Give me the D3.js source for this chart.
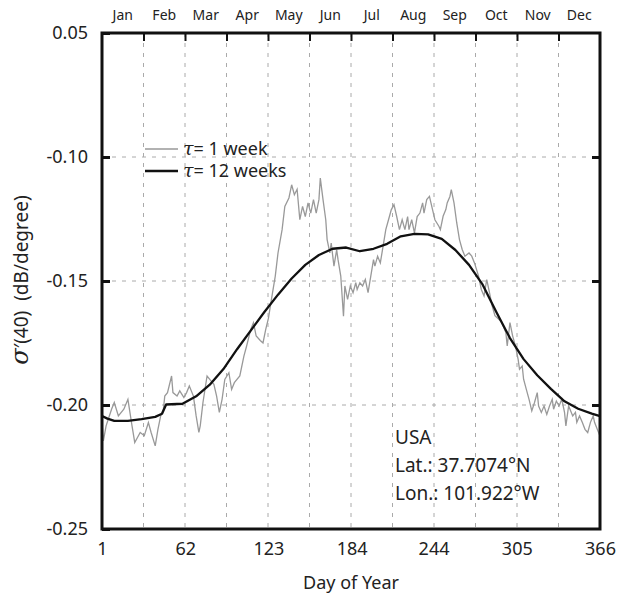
<!DOCTYPE html>
<html>
<head>
<meta charset="utf-8">
<script src="https://cdn.jsdelivr.net/npm/d3@7"></script>
<style>
  body { margin: 0; background: #fff; }
  text { font-family: "Noto Sans", sans-serif; fill: #222; }
</style>
</head>
<body>
<div id="container"></div>
<script>
let w = 620;
let h = 596;

// month names along the top
let months = ["Jan","Feb","Mar","Apr","May","Jun","Jul","Aug","Sep","Oct","Nov","Dec"];

// x ticks (day of year)
let xTicks = [1, 62, 123, 184, 244, 305, 366];

// y ticks, top label printed as "0.05" in the original
let yTicks = [-0.05, -0.10, -0.15, -0.20, -0.25];
let yTickLabels = ["0.05", "-0.10", "-0.15", "-0.20", "-0.25"];

// tau = 1 week  [day, value]
let week1 = [
  [1,-0.207],[2,-0.2145],[4,-0.2084],[8,-0.2017],[10,-0.199],[13,-0.2044],[17,-0.2017],
  [20,-0.1977],[23,-0.2084],[25,-0.2151],[29,-0.2111],[32,-0.2124],[35,-0.2071],[37,-0.2111],
  [40,-0.2165],[42,-0.2098],[44,-0.2044],[46,-0.2017],[47,-0.1964],[49,-0.195],[52,-0.1883],
  [53,-0.195],[56,-0.1964],[58,-0.1943],[61,-0.197],[63,-0.195],[65,-0.1923],[68,-0.1964],
  [70,-0.2044],[72,-0.211],[73,-0.2084],[75,-0.199],[78,-0.1883],[80,-0.1897],[83,-0.1917],
  [85,-0.1964],[87,-0.203],[89,-0.1977],[91,-0.1897],[94,-0.187],[96,-0.1937],[98,-0.191],
  [102,-0.1883],[105,-0.1803],[107,-0.1762],[110,-0.1695],[112,-0.1668],[114,-0.1722],
  [117,-0.174],[119,-0.175],[121,-0.1695],[123,-0.165],[125,-0.158],[128,-0.148],
  [130,-0.1387],[133,-0.1293],[135,-0.1199],[138,-0.1165],[140,-0.1112],[142,-0.1152],
  [144,-0.113],[146,-0.1253],[148,-0.1199],[150,-0.124],[152,-0.1185],[154,-0.1226],
  [156,-0.1172],[158,-0.1226],[160,-0.1172],[161,-0.1085],[163,-0.1172],[165,-0.1253],
  [166,-0.1333],[168,-0.1387],[169,-0.1347],[171,-0.144],[173,-0.1374],[174,-0.1414],
  [176,-0.148],[178,-0.1642],[179,-0.152],[181,-0.1574],[183,-0.152],[185,-0.1547],
  [187,-0.1507],[188,-0.1534],[190,-0.1507],[192,-0.152],[194,-0.1494],[196,-0.1547],
  [198,-0.148],[200,-0.1414],[201,-0.144],[203,-0.14],[205,-0.1427],[207,-0.136],
  [209,-0.1293],[211,-0.1253],[213,-0.1213],[215,-0.1192],[217,-0.124],[219,-0.1293],
  [221,-0.1253],[223,-0.1293],[225,-0.124],[226,-0.1293],[228,-0.1253],[230,-0.1306],
  [232,-0.124],[234,-0.1226],[236,-0.1185],[237,-0.1226],[239,-0.1172],[241,-0.1159],
  [243,-0.1206],[245,-0.1253],[248,-0.128],[249,-0.1293],[251,-0.1239],[253,-0.1212],
  [254,-0.1185],[256,-0.1159],[257,-0.1132],[259,-0.1185],[261,-0.1266],[263,-0.1333],
  [265,-0.1373],[267,-0.14],[270,-0.1387],[272,-0.14],[274,-0.1427],[277,-0.148],
  [279,-0.1534],[281,-0.156],[283,-0.1494],[285,-0.1547],[287,-0.1601],[289,-0.164],
  [292,-0.1655],[294,-0.1668],[297,-0.1708],[298,-0.1762],[300,-0.1668],[302,-0.1722],
  [304,-0.1762],[306,-0.1816],[307,-0.1856],[309,-0.1843],[310,-0.1896],[312,-0.1937],
  [314,-0.1977],[316,-0.2024],[318,-0.199],[320,-0.195],[321,-0.2004],[323,-0.203],
  [325,-0.2004],[327,-0.2038],[329,-0.2004],[331,-0.1977],[332,-0.2017],[334,-0.1984],
  [336,-0.2004],[338,-0.1977],[340,-0.203],[341,-0.2084],[343,-0.2004],[344,-0.2017],
  [346,-0.2044],[348,-0.203],[349,-0.207],[351,-0.2044],[353,-0.207],[355,-0.2098],
  [357,-0.2111],[359,-0.207],[361,-0.2044],[362,-0.207],[364,-0.2098],[366,-0.2125]
];

// tau = 12 weeks  [day, value]
let week12 = [
  [1,-0.2044],[5,-0.2055],[10,-0.2064],[20,-0.2064],[30,-0.2057],[40,-0.2048],[45,-0.2035],
  [48,-0.1998],[60,-0.1995],[70,-0.1965],[80,-0.1918],[90,-0.1855],[100,-0.1775],
  [110,-0.17],[120,-0.1625],[130,-0.1555],[140,-0.149],[150,-0.1435],[160,-0.1395],
  [170,-0.137],[180,-0.1365],[190,-0.138],[200,-0.137],[210,-0.135],[220,-0.132],
  [230,-0.131],[240,-0.1312],[250,-0.133],[260,-0.1375],[270,-0.1435],[280,-0.1515],
  [290,-0.1625],[300,-0.173],[310,-0.1815],[320,-0.188],[330,-0.1935],[340,-0.1985],
  [350,-0.2015],[360,-0.2035],[366,-0.2045]
];

let margin = {left: 102, right: 20, top: 33, bottom: 67};

let viz = d3.select("#container")
  .append("svg")
    .attr("width", w)
    .attr("height", h)
;

let xScale = d3.scaleLinear().domain([1, 366]).range([margin.left, w - margin.right]);
let yScale = d3.scaleLinear().domain([-0.25, -0.05]).range([h - margin.bottom, margin.top]);
let monthScale = d3.scaleBand().domain(months).range([margin.left, w - margin.right]);

// month boundaries, equally spaced
let monthEdges = d3.range(1, 12).map(function(k){ return 1 + 365 * k / 12; });

// dashed grid
viz.append("g").selectAll("line").data(monthEdges).enter()
  .append("line")
    .attr("x1", d => xScale(d)).attr("x2", d => xScale(d))
    .attr("y1", margin.top).attr("y2", h - margin.bottom)
    .attr("stroke", "#aaa").attr("stroke-width", 1).attr("stroke-dasharray", "4,6")
;
viz.append("g").selectAll("line").data([-0.10, -0.15, -0.20]).enter()
  .append("line")
    .attr("x1", margin.left).attr("x2", w - margin.right)
    .attr("y1", d => yScale(d)).attr("y2", d => yScale(d))
    .attr("stroke", "#aaa").attr("stroke-width", 1).attr("stroke-dasharray", "4,6")
;

// series
let line = d3.line().x(d => xScale(d[0])).y(d => yScale(d[1]));

viz.append("path").datum(week1)
  .attr("d", line).attr("fill", "none")
  .attr("stroke", "#999").attr("stroke-width", 1.3);

viz.append("path").datum(week12)
  .attr("d", line).attr("fill", "none")
  .attr("stroke", "#111").attr("stroke-width", 2.3)
  .attr("stroke-linejoin", "round");

// axes
function styleTicks(g, width){
  g.select(".domain").remove();
  g.selectAll(".tick line").attr("stroke", "#111").attr("stroke-width", width);
  g.selectAll(".tick text").style("font-size", "18px").attr("fill", "#222");
}

viz.append("g")
  .attr("transform", "translate(" + margin.left + ",0)")
  .call(d3.axisLeft(yScale).tickValues(yTicks).tickSize(-8).tickPadding(14)
    .tickFormat((d, i) => yTickLabels[i]))
  .call(g => styleTicks(g, 3));

viz.append("g")
  .attr("transform", "translate(" + (w - margin.right) + ",0)")
  .call(d3.axisRight(yScale).tickValues([-0.10, -0.15, -0.20]).tickSize(-8).tickFormat(""))
  .call(g => styleTicks(g, 3));

viz.append("g")
  .attr("transform", "translate(0," + (h - margin.bottom) + ")")
  .call(d3.axisBottom(xScale).tickValues(xTicks).tickSize(0).tickPadding(13).tickFormat(d3.format("d")))
  .call(g => styleTicks(g, 0));

viz.append("g")
  .attr("transform", "translate(0," + margin.top + ")")
  .call(d3.axisTop(xScale).tickValues(monthEdges).tickSize(-8).tickFormat(""))
  .call(g => styleTicks(g, 2));

viz.append("g")
  .attr("transform", "translate(0," + (margin.top - 9) + ")")
  .call(d3.axisTop(monthScale).tickSize(0).tickPadding(4))
  .call(g => { styleTicks(g, 0); g.selectAll(".tick text").style("font-size", "14px"); });

// frame
viz.append("rect")
  .attr("x", margin.left).attr("y", margin.top)
  .attr("width", w - margin.left - margin.right)
  .attr("height", h - margin.top - margin.bottom)
  .attr("fill", "none").attr("stroke", "#111").attr("stroke-width", 3);

// axis titles
viz.append("text")
  .attr("x", (margin.left + w - margin.right) / 2).attr("y", 589)
  .attr("text-anchor", "middle").style("font-size", "18px")
  .text("Day of Year");

let yTitle = viz.append("text")
  .attr("transform", "translate(28,280) rotate(-90)")
  .attr("text-anchor", "middle").style("font-size", "19px");
yTitle.append("tspan").style("font-family", "'DejaVu Serif', serif").style("font-style", "italic")
  .style("font-size", "24px").text("σ");
yTitle.append("tspan").text("′(40)\u00a0\u00a0(dB/degree)");

// legend
let legend = [
  {label: "1 week", color: "#999", width: 1.3},
  {label: "12 weeks", color: "#111", width: 2.5}
];
let leg = viz.append("g").selectAll("g").data(legend).enter()
  .append("g").attr("transform", (d, i) => "translate(145," + (149 + i * 22) + ")");
leg.append("line").attr("x1", 0).attr("x2", 33)
  .attr("stroke", d => d.color).attr("stroke-width", d => d.width);
let legText = leg.append("text").attr("x", 38).attr("dy", "0.35em").style("font-size", "18px");
legText.append("tspan").style("font-family", "'DejaVu Serif', serif").style("font-style", "italic")
  .style("font-size", "19px").text("τ");
legText.append("tspan").text(d => "= " + d.label);

// site info
let info = ["USA", "Lat.: 37.7074°N", "Lon.: 101.922°W"];
viz.append("g").selectAll("text").data(info).enter()
  .append("text")
    .attr("x", 395).attr("y", (d, i) => 444 + i * 28)
    .style("font-size", "19px")
    .text(d => d);
</script>
</body>
</html>
